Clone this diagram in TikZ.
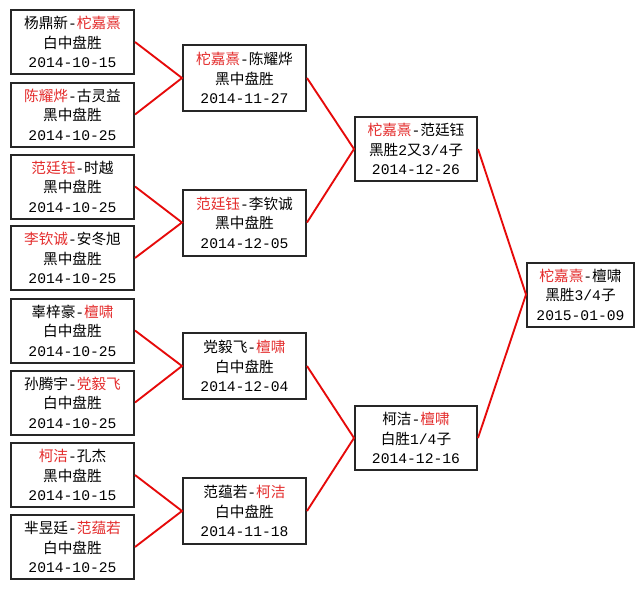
\documentclass[tikz,border=0pt]{standalone}
\usepackage{fontspec}
\setmainfont{Noto Sans CJK SC}
\newfontfamily\mono{Liberation Mono}
\definecolor{wred}{RGB}{228,45,45}
\definecolor{lred}{RGB}{230,10,10}
\newcommand{\rr}[1]{\textcolor{wred}{#1}}
\newcommand{\mm}[1]{{\mono #1}}
\begin{document}
\begin{tikzpicture}[x=0.75pt,y=-0.75pt,
  game/.style={draw=black!85,line width=1.5pt,fill=white,minimum width=92.25pt,minimum height=48pt,
    align=center,inner sep=0pt,font=\fontsize{11pt}{14.6pt}\selectfont},
  conn/.style={draw=lred,line width=1.4pt}]
\useasboundingbox[fill=white] (0,0) rectangle (644,589);
% round 1
\node[game] (L1) at (72.5,42)  {杨鼎新\mm{-}\rr{柁嘉熹}\\白中盘胜\\\mm{2014-10-15}};
\node[game] (L2) at (72.5,114.5) {\rr{陈耀烨}\mm{-}古灵益\\黑中盘胜\\\mm{2014-10-25}};
\node[game] (L3) at (72.5,186.5) {\rr{范廷钰}\mm{-}时越\\黑中盘胜\\\mm{2014-10-25}};
\node[game] (L4) at (72.5,258) {\rr{李钦诚}\mm{-}安冬旭\\黑中盘胜\\\mm{2014-10-25}};
\node[game] (L5) at (72.5,330.5) {辜梓豪\mm{-}\rr{檀啸}\\白中盘胜\\\mm{2014-10-25}};
\node[game] (L6) at (72.5,402.5) {孙腾宇\mm{-}\rr{党毅飞}\\白中盘胜\\\mm{2014-10-25}};
\node[game] (L7) at (72.5,475) {\rr{柯洁}\mm{-}孔杰\\黑中盘胜\\\mm{2014-10-15}};
\node[game] (L8) at (72.5,547) {芈昱廷\mm{-}\rr{范蕴若}\\白中盘胜\\\mm{2014-10-25}};
% round 2
\node[game,minimum height=49.5pt] (Q1) at (244.5,78) {\rr{柁嘉熹}\mm{-}陈耀烨\\黑中盘胜\\\mm{2014-11-27}};
\node[game,minimum height=49.5pt] (Q2) at (244.5,222.5) {\rr{范廷钰}\mm{-}李钦诚\\黑中盘胜\\\mm{2014-12-05}};
\node[game,minimum height=49.5pt] (Q3) at (244.5,366) {党毅飞\mm{-}\rr{檀啸}\\白中盘胜\\\mm{2014-12-04}};
\node[game,minimum height=49.5pt] (Q4) at (244.5,511) {范蕴若\mm{-}\rr{柯洁}\\白中盘胜\\\mm{2014-11-18}};
% semifinals
\node[game,minimum width=91.5pt] (S1) at (416,149) {\rr{柁嘉熹}\mm{-}范廷钰\\黑胜\mm{2}又\mm{3/4}子\\\mm{2014-12-26}};
\node[game,minimum width=91.5pt] (S2) at (416,438) {柯洁\mm{-}\rr{檀啸}\\白胜\mm{1/4}子\\\mm{2014-12-16}};
% final
\node[game,minimum width=80.25pt] (F) at (580.5,294.5) {\rr{柁嘉熹}\mm{-}檀啸\\黑胜\mm{3/4}子\\\mm{2015-01-09}};
% connectors
\draw[conn] (L1.east) -- (Q1.west) -- (L2.east);
\draw[conn] (L3.east) -- (Q2.west) -- (L4.east);
\draw[conn] (L5.east) -- (Q3.west) -- (L6.east);
\draw[conn] (L7.east) -- (Q4.west) -- (L8.east);
\draw[conn] (Q1.east) -- (S1.west) -- (Q2.east);
\draw[conn] (Q3.east) -- (S2.west) -- (Q4.east);
\draw[conn] (S1.east) -- (F.west) -- (S2.east);
\end{tikzpicture}
\end{document}
